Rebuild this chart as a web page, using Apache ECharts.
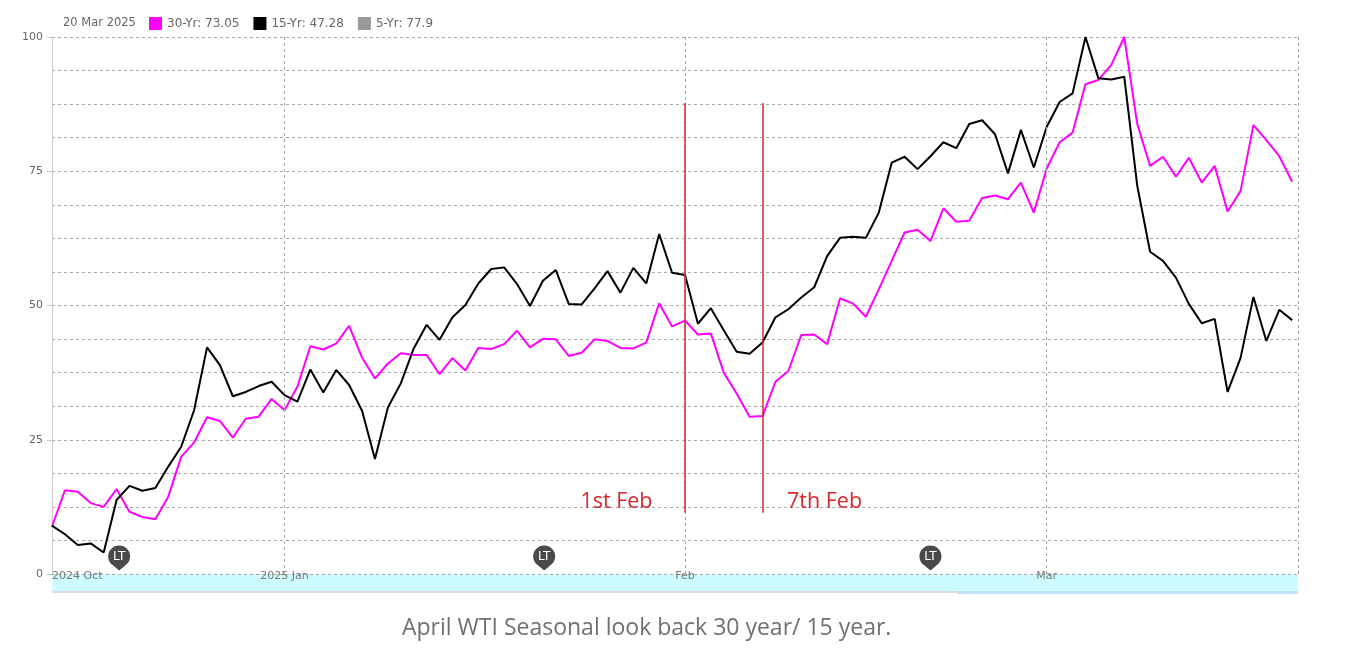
<!DOCTYPE html>
<html>
<head>
<meta charset="utf-8">
<script src="https://cdn.jsdelivr.net/npm/echarts@6.0.0/dist/echarts.min.js"></script>
<style>
  html, body { margin: 0; padding: 0; background: #fff; }
  #chart { width: 1353px; height: 653px; }
</style>
</head>
<body>
<div id="chart"></div>
<script>
// seasonal index, one point per calendar day (14 Dec -> 20 Mar)
var thirtyYr = [8.8, 15.6, 15.3, 13.2, 12.5, 15.8, 11.6, 10.6, 10.2, 14.4,
    21.8, 24.5, 29.2, 28.5, 25.4, 28.9, 29.3, 32.6, 30.5, 34.9,
    42.4, 41.8, 42.9, 46.2, 40.3, 36.4, 39.2, 41.1, 40.8, 40.8,
    37.2, 40.2, 37.9, 42.1, 41.9, 42.8, 45.3, 42.2, 43.8, 43.7,
    40.6, 41.2, 43.7, 43.4, 42.1, 42.0, 43.1, 50.4, 46.1, 47.2,
    44.6, 44.8, 37.5, 33.6, 29.3, 29.4, 35.8, 37.8, 44.5, 44.6,
    42.8, 51.3, 50.4, 47.9, 53.0, 58.3, 63.6, 64.1, 62.0, 68.1,
    65.6, 65.8, 70.0, 70.5, 69.8, 72.9, 67.3, 75.5, 80.4, 82.2,
    91.2, 92.0, 94.8, 100, 83.9, 76.0, 77.7, 74.0, 77.5, 72.9,
    76.0, 67.5, 71.3, 83.6, 80.8, 77.8, 73.05];
var fifteenYr = [9.0, 7.4, 5.4, 5.7, 4.0, 13.8, 16.4, 15.5, 16.0, 20.0,
    23.7, 30.5, 42.2, 38.9, 33.1, 33.9, 35.0, 35.8, 33.3, 32.1,
    38.1, 33.8, 38.0, 35.2, 30.4, 21.4, 31.0, 35.5, 42.0, 46.4,
    43.6, 47.8, 50.1, 54.1, 56.8, 57.1, 54.0, 49.9, 54.6, 56.6,
    50.3, 50.2, 53.2, 56.4, 52.4, 57.0, 54.1, 63.3, 56.1, 55.7,
    46.6, 49.5, 45.4, 41.4, 41.0, 43.1, 47.8, 49.3, 51.5, 53.4,
    59.2, 62.6, 62.8, 62.6, 67.3, 76.6, 77.7, 75.4, 77.8, 80.4,
    79.3, 83.8, 84.5, 81.9, 74.6, 82.7, 75.7, 83.3, 87.9, 89.5,
    100, 92.3, 92.1, 92.6, 72.4, 60.0, 58.3, 55.2, 50.3, 46.7,
    47.5, 33.9, 40.2, 51.6, 43.4, 49.2, 47.28];
var fiveYr = [];

var tickPos = [0, 18, 49, 77];
var tickLabels = ['2024 Oct', '2025 Jan', 'Feb', 'Mar'];
var ltPos = [5.2, 38.1, 68];
var febLines = [49, 55];
var febLabels = ['1st Feb', '7th Feb'];
var febLineRange = [11.4, 87.7];
var febLabelY = 13.4;
var xMax = 96.45;

var seriesNames = ['30-Yr: 73.05', '15-Yr: 47.28', '5-Yr: 77.9'];

function pairs(arr) {
    return arr.map(function (v, i) { return [i, v]; });
}

var myChart = echarts.init(document.getElementById('chart'));
var font = 'DejaVu Sans';
var gridDash = { color: '#aaa', type: [3, 3], width: 1 };
var red = '#d9272e';
// balloon marker: circle with a short point underneath
var balloon = 'path://M10 0A10 10 0 0 1 16 18L10 23L4 18A10 10 0 0 1 10 0Z';

var option = {
    animation: false,
    textStyle: { fontFamily: font },
    title: [
        { text: '20 Mar 2025', left: 58, top: 12,
          textStyle: { fontSize: 11.5, fontWeight: 'normal', color: '#666', fontFamily: font } },
        { text: 'April WTI Seasonal look back 30 year/ 15 year.', left: 397, top: 612,
          textStyle: { fontSize: 23, fontWeight: 'normal', color: '#707070', fontFamily: 'Open Sans' } }
    ],
    legend: {
        left: 144, top: 12,
        itemWidth: 13, itemHeight: 13, itemGap: 14,
        icon: 'rect',
        selectedMode: false,
        data: seriesNames,
        textStyle: { fontSize: 12, color: '#666', fontFamily: font }
    },
    grid: { left: 52, right: 55, top: 37, bottom: 79 },
    xAxis: {
        type: 'value', min: 0, max: xMax,
        axisLine: { show: false },
        axisTick: { show: false },
        splitLine: { show: false },
        axisLabel: {
            customValues: tickPos,
            alignMinLabel: 'left',
            margin: -3,
            fontSize: 11, color: '#777', fontFamily: font,
            formatter: function (v) {
                var k = tickPos.indexOf(v);
                return k >= 0 ? tickLabels[k] : '';
            }
        }
    },
    yAxis: {
        type: 'value', min: 0, max: 100, interval: 25,
        axisLine: { show: true, lineStyle: { color: '#c8c8c8' } },
        axisTick: { show: true, length: 5, lineStyle: { color: '#c8c8c8' } },
        axisLabel: { fontSize: 11, color: '#666', margin: 9, fontFamily: font },
        splitLine: { lineStyle: gridDash },
        minorTick: { show: false, splitNumber: 4 },
        minorSplitLine: { show: true, lineStyle: gridDash }
    },
    graphic: [
        { type: 'rect', z: -1, shape: { x: 52, y: 574, width: 1246, height: 17 }, style: { fill: '#ccfcff' } },
        { type: 'rect', z: -1, shape: { x: 52, y: 591, width: 1246, height: 2 }, style: { fill: '#dcdcdc' } },
        { type: 'rect', z: -1, shape: { x: 957, y: 591, width: 341, height: 3 }, style: { fill: '#bde3f5' } }
    ],
    series: [
        {
            name: seriesNames[0], type: 'line', data: pairs(thirtyYr),
            showSymbol: false, color: '#ff00ff',
            lineStyle: { width: 2 },
            markLine: {
                silent: true, symbol: 'none',
                label: { show: false },
                lineStyle: gridDash,
                data: tickPos.slice(1).concat([xMax]).map(function (p) { return { xAxis: p }; })
            }
        },
        {
            name: seriesNames[1], type: 'line', data: pairs(fifteenYr),
            showSymbol: false, color: '#000',
            lineStyle: { width: 2 },
            z: 3,
            markLine: {
                silent: true, symbol: 'none',
                label: { show: false },
                lineStyle: { color: red, width: 1.5, type: 'solid' },
                data: febLines.map(function (p) {
                    return [{ coord: [p, febLineRange[0]] }, { coord: [p, febLineRange[1]] }];
                })
            },
            markPoint: {
                silent: true,
                data: ltPos.map(function (p) {
                    return {
                        coord: [p, 0], symbol: balloon, symbolSize: [22, 25], symbolOffset: [0, -16],
                        itemStyle: { color: '#4a4a4a' },
                        label: { show: true, formatter: 'LT', color: '#fff', fontSize: 12, offset: [0, -1.5], fontFamily: font }
                    };
                }).concat(febLines.map(function (p, k) {
                    return {
                        coord: [p, febLabelY], symbol: 'circle', symbolSize: 1,
                        itemStyle: { color: 'rgba(0,0,0,0)' },
                        label: {
                            show: true, formatter: febLabels[k], color: red, fontSize: 21.5,
                            fontFamily: 'Open Sans',
                            position: k === 0 ? 'left' : 'right', distance: k === 0 ? 32 : 24
                        }
                    };
                }))
            }
        },
        {
            name: seriesNames[2], type: 'line', data: pairs(fiveYr),
            showSymbol: false, color: '#999'
        }
    ]
};
myChart.setOption(option);
</script>
</body>
</html>
